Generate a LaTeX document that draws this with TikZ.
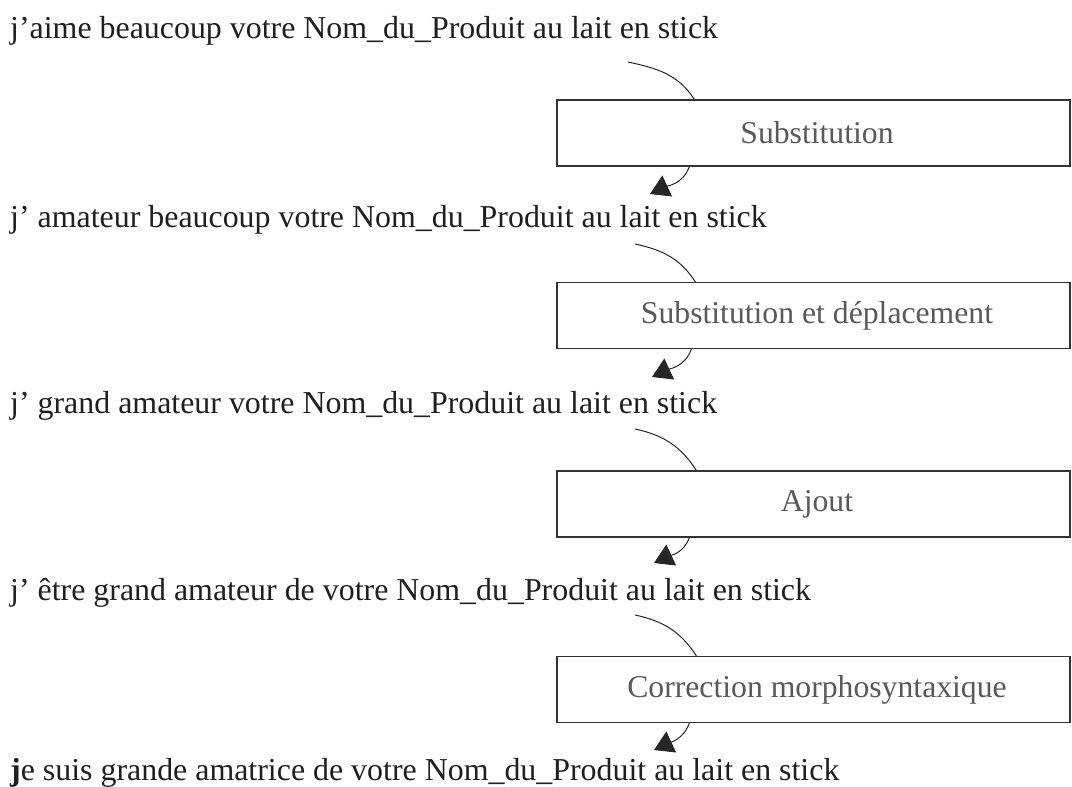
\documentclass[tikz,border=0pt]{standalone}
\usepackage{fontspec}
\setmainfont{Liberation Serif}
\usetikzlibrary{arrows.meta}
\tikzstyle{phrase}=[anchor=base west,inner sep=0pt,font=\fontsize{31.9}{38}\selectfont,text=black!88]
\tikzstyle{etape}=[rectangle,draw=black!80,line width=1.3pt,minimum width=513pt,minimum height=66pt,inner sep=0pt,font=\fontsize{31.7}{38}\selectfont,text=black!65]
\tikzstyle{vers}=[line width=1pt,black!85]
\tikzstyle{retour}=[line width=1pt,black!85,-{Triangle[length=19pt,width=23pt]}]

\begin{document}
\begin{tikzpicture}[x=1pt,y=1pt]
\useasboundingbox (0,0) rectangle (1072,-787);
\node (p0) [phrase] at (10,-38) {j'aime beaucoup votre Nom\_du\_Produit au lait en stick};
\node (p1) [phrase] at (10,-227) {j' amateur beaucoup votre Nom\_du\_Produit au lait en stick};
\node (p2) [phrase] at (10,-413) {j' grand amateur votre Nom\_du\_Produit au lait en stick};
\node (p3) [phrase] at (10,-600) {j' être grand amateur de votre Nom\_du\_Produit au lait en stick};
\node (p4) [phrase] at (10,-780) {\textbf{j}e suis grande amatrice de votre Nom\_du\_Produit au lait en stick};

\node (e1) [etape] at (813.5,-133) {\hspace*{7pt}Substitution};
\node (e2) [etape] at (813.5,-315.5) {\hspace*{7pt}Substitution et déplacement};
\node (e3) [etape] at (813.5,-504) {\hspace*{7pt}Ajout};
\node (e4) [etape] at (813.5,-689.5) {\hspace*{7pt}Correction morphosyntaxique};

\coordinate (d1) at (628,-62);
\coordinate (d2) at (635,-244);
\coordinate (d3) at (635,-429);
\coordinate (d4) at (635,-615);
\coordinate (f1) at (650,-194);
\coordinate (f2) at (652,-377);
\coordinate (f3) at (654,-563);
\coordinate (f4) at (654,-750);

\draw[vers] (d1) to[out=-12,in=123] ([xshift=138pt]e1.north west);
\draw[vers] (d2) to[out=-12,in=123] ([xshift=139pt]e2.north west);
\draw[vers] (d3) to[out=-12,in=123] ([xshift=140pt]e3.north west);
\draw[vers] (d4) to[out=-12,in=123] ([xshift=140pt]e4.north west);
\draw[retour] ([xshift=133pt]e1.south west) to[out=-110,in=25] (f1);
\draw[retour] ([xshift=135pt]e2.south west) to[out=-110,in=25] (f2);
\draw[retour] ([xshift=133pt]e3.south west) to[out=-110,in=25] (f3);
\draw[retour] ([xshift=133pt]e4.south west) to[out=-110,in=25] (f4);
\end{tikzpicture}
\end{document}
